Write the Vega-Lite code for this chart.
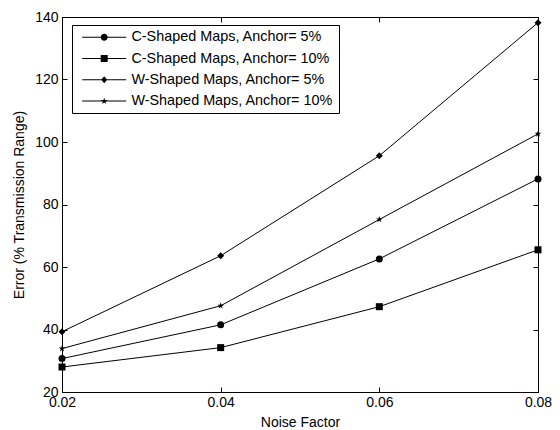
{
  "$schema": "https://vega.github.io/schema/vega-lite/v6.json",
  "width": 476,
  "height": 375,
  "autosize": {"type": "none"},
  "padding": {"left": 62, "top": 17, "right": 22, "bottom": 38},
  "background": "white",
  "config": {
    "view": {"stroke": "black", "strokeWidth": 1},
    "font": "Liberation Sans",
    "axis": {
      "domainColor": "black", "tickColor": "black", "labelColor": "black", "titleColor": "black",
      "labelFont": "Liberation Sans", "titleFont": "Liberation Sans",
      "labelFontSize": 14, "titleFontSize": 14, "titleFontWeight": "normal",
      "grid": false, "tickSize": -5, "domainWidth": 1, "tickWidth": 1, "labelFlush": false
    }
  },
  "data": {
    "values": [
      {"noise": 0.02, "error": 30.7, "series": "C-Shaped Maps, Anchor= 5%"},
      {"noise": 0.04, "error": 41.5, "series": "C-Shaped Maps, Anchor= 5%"},
      {"noise": 0.06, "error": 62.6, "series": "C-Shaped Maps, Anchor= 5%"},
      {"noise": 0.08, "error": 88.2, "series": "C-Shaped Maps, Anchor= 5%"},
      {"noise": 0.02, "error": 28.0, "series": "C-Shaped Maps, Anchor= 10%"},
      {"noise": 0.04, "error": 34.2, "series": "C-Shaped Maps, Anchor= 10%"},
      {"noise": 0.06, "error": 47.3, "series": "C-Shaped Maps, Anchor= 10%"},
      {"noise": 0.08, "error": 65.5, "series": "C-Shaped Maps, Anchor= 10%"},
      {"noise": 0.02, "error": 39.3, "series": "W-Shaped Maps, Anchor= 5%"},
      {"noise": 0.04, "error": 63.6, "series": "W-Shaped Maps, Anchor= 5%"},
      {"noise": 0.06, "error": 95.6, "series": "W-Shaped Maps, Anchor= 5%"},
      {"noise": 0.08, "error": 138.2, "series": "W-Shaped Maps, Anchor= 5%"},
      {"noise": 0.02, "error": 33.9, "series": "W-Shaped Maps, Anchor= 10%"},
      {"noise": 0.04, "error": 47.6, "series": "W-Shaped Maps, Anchor= 10%"},
      {"noise": 0.06, "error": 75.2, "series": "W-Shaped Maps, Anchor= 10%"},
      {"noise": 0.08, "error": 102.6, "series": "W-Shaped Maps, Anchor= 10%"}
    ]
  },
  "resolve": {"axis": {"x": "independent", "y": "independent"}, "scale": {"shape": "independent"}},
  "layer": [
    {
      "mark": {"type": "line", "color": "black", "strokeWidth": 1},
      "encoding": {
        "x": {"field": "noise", "type": "quantitative",
          "scale": {"domain": [0.02, 0.08], "nice": false, "zero": false},
          "axis": {"orient": "bottom", "values": [0.02, 0.04, 0.06, 0.08], "format": ".2f", "title": "Noise Factor", "labelPadding": 8, "titlePadding": 6}},
        "y": {"field": "error", "type": "quantitative",
          "scale": {"domain": [20, 140], "nice": false, "zero": false},
          "axis": {"orient": "left", "values": [20, 40, 60, 80, 100, 120, 140], "title": "Error (% Transmission Range)", "labelPadding": 9, "titlePadding": 8}},
        "detail": {"field": "series", "type": "nominal"}
      }
    },
    {
      "mark": {"type": "point", "filled": true, "color": "black", "opacity": 1, "size": 49},
      "encoding": {
        "x": {"field": "noise", "type": "quantitative",
          "axis": {"orient": "top", "values": [0.02, 0.04, 0.06, 0.08], "labels": false, "title": null}},
        "y": {"field": "error", "type": "quantitative",
          "axis": {"orient": "right", "values": [20, 40, 60, 80, 100, 120, 140], "labels": false, "title": null}},
        "shape": {"field": "series", "type": "nominal",
          "scale": {
            "domain": ["C-Shaped Maps, Anchor= 5%", "C-Shaped Maps, Anchor= 10%", "W-Shaped Maps, Anchor= 5%", "W-Shaped Maps, Anchor= 10%"],
            "range": ["circle", "square", "diamond", "M0,-1L0.225,-0.309L0.951,-0.309L0.363,0.118L0.588,0.809L0,0.382L-0.588,0.809L-0.363,0.118L-0.951,-0.309L-0.225,-0.309Z"]
          },
          "legend": null}
      }
    },
    {
      "transform": [{"filter": "false"}],
      "mark": {"type": "point", "filled": true, "color": "black", "opacity": 1, "size": 100},
      "encoding": {
        "shape": {"field": "series", "type": "nominal",
          "scale": {
            "domain": ["C-Shaped Maps, Anchor= 5%", "C-Shaped Maps, Anchor= 10%", "W-Shaped Maps, Anchor= 5%", "W-Shaped Maps, Anchor= 10%"],
            "range": [
              "M-4.4,-0.1L4.4,-0.1L4.4,0.1L-4.4,0.1ZM0.7,0A0.7,0.7,0,1,1,-0.7,0A0.7,0.7,0,1,1,0.7,0Z",
              "M-4.4,-0.1L4.4,-0.1L4.4,0.1L-4.4,0.1ZM-0.7,-0.7L0.7,-0.7L0.7,0.7L-0.7,0.7Z",
              "M-4.4,-0.1L4.4,-0.1L4.4,0.1L-4.4,0.1ZM-0.6,0L0,-0.7L0.6,0L0,0.7Z",
              "M-4.4,-0.1L4.4,-0.1L4.4,0.1L-4.4,0.1ZM0,-0.7L0.158,-0.216L0.666,-0.216L0.254,0.083L0.412,0.566L0,0.267L-0.412,0.566L-0.254,0.083L-0.666,-0.216L-0.158,-0.216Z"
            ]
          },
          "legend": {
            "orient": "none", "legendX": 10, "legendY": 8, "title": null,
            "strokeColor": "black", "fillColor": "white", "padding": 5,
            "labelFont": "Liberation Sans", "labelFontSize": 14.4, "labelColor": "black", "labelLimit": 400,
            "symbolSize": 100, "symbolOffset": 20, "labelOffset": 20, "rowPadding": 6.3,
            "symbolFillColor": "black", "symbolStrokeWidth": 0
          }}
      }
    }
  ]
}
